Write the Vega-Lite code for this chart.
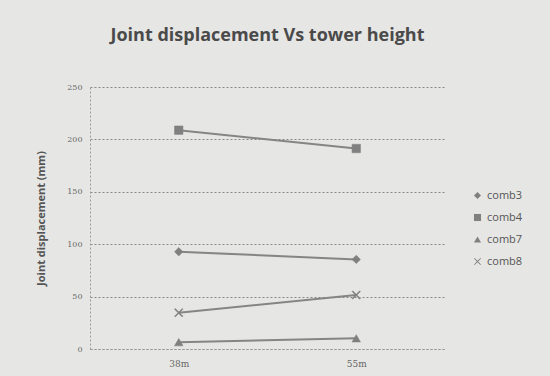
{
  "$schema": "https://vega.github.io/schema/vega-lite/v6.json",
  "width": 355,
  "height": 262,
  "autosize": {"type": "none"},
  "padding": {"left": 90, "top": 87, "right": 105, "bottom": 27},
  "background": "#e6e6e4",
  "title": {
    "text": "Joint displacement Vs tower height",
    "fontSize": 18,
    "font": "Open Sans",
    "fontWeight": "bold",
    "color": "#4a4a4a",
    "anchor": "middle",
    "offset": 38
  },
  "data": {
    "values": [
      {"height": "38m", "series": "comb3", "disp": 92.8},
      {"height": "55m", "series": "comb3", "disp": 85.5},
      {"height": "38m", "series": "comb4", "disp": 208.8},
      {"height": "55m", "series": "comb4", "disp": 191.3},
      {"height": "38m", "series": "comb7", "disp": 6.5},
      {"height": "55m", "series": "comb7", "disp": 10.2},
      {"height": "38m", "series": "comb8", "disp": 34.6},
      {"height": "55m", "series": "comb8", "disp": 51.5}
    ]
  },
  "config": {
    "view": {"stroke": null},
    "font": "DejaVu Serif"
  },
  "encoding": {
    "x": {
      "field": "height",
      "type": "nominal",
      "scale": {"type": "point", "padding": 0.5},
      "axis": {
        "title": null,
        "labelAngle": 0,
        "labelFontSize": 9,
        "labelColor": "#666",
        "labelPadding": 10,
        "domainColor": "#9a9a9a",
        "domainDash": [2, 2],
        "ticks": false
      }
    },
    "y": {
      "field": "disp",
      "type": "quantitative",
      "scale": {"domain": [0, 250]},
      "axis": {
        "values": [0, 50, 100, 150, 200, 250],
        "title": "Joint displacement (mm)",
        "titleFont": "Open Sans",
        "titleFontSize": 11,
        "titleFontWeight": "bold",
        "titleColor": "#555",
        "titlePadding": 20,
        "labelFontSize": 8,
        "labelColor": "#666",
        "labelPadding": 8,
        "ticks": false,
        "domainColor": "#9a9a9a",
        "domainDash": [2, 2],
        "gridColor": "#888",
        "gridDash": [2, 2],
        "gridWidth": 1
      }
    }
  },
  "layer": [
    {
      "mark": {"type": "line", "color": "#858585", "strokeWidth": 2},
      "encoding": {"detail": {"field": "series"}}
    },
    {
      "mark": {"type": "point", "filled": true, "size": 70, "color": "#808080", "stroke": "#808080", "strokeWidth": 0.6, "opacity": 1},
      "encoding": {
        "shape": {
          "field": "series",
          "type": "nominal",
          "scale": {
            "domain": ["comb3", "comb4", "comb7", "comb8"],
            "range": ["diamond", "square", "triangle-up", "M-1,-0.82L-0.82,-1L0,-0.18L0.82,-1L1,-0.82L0.18,0L1,0.82L0.82,1L0,0.18L-0.82,1L-1,0.82L-0.18,0Z"]
          },
          "legend": {
            "title": null,
            "orient": "none",
            "legendX": 382,
            "legendY": 103,
            "labelFont": "Open Sans",
            "labelFontSize": 11,
            "labelColor": "#555",
            "symbolFillColor": "#808080",
            "symbolStrokeColor": "#808080",
            "symbolStrokeWidth": 0.6,
            "symbolSize": 50,
            "rowPadding": 10
          }
        }
      }
    }
  ]
}
